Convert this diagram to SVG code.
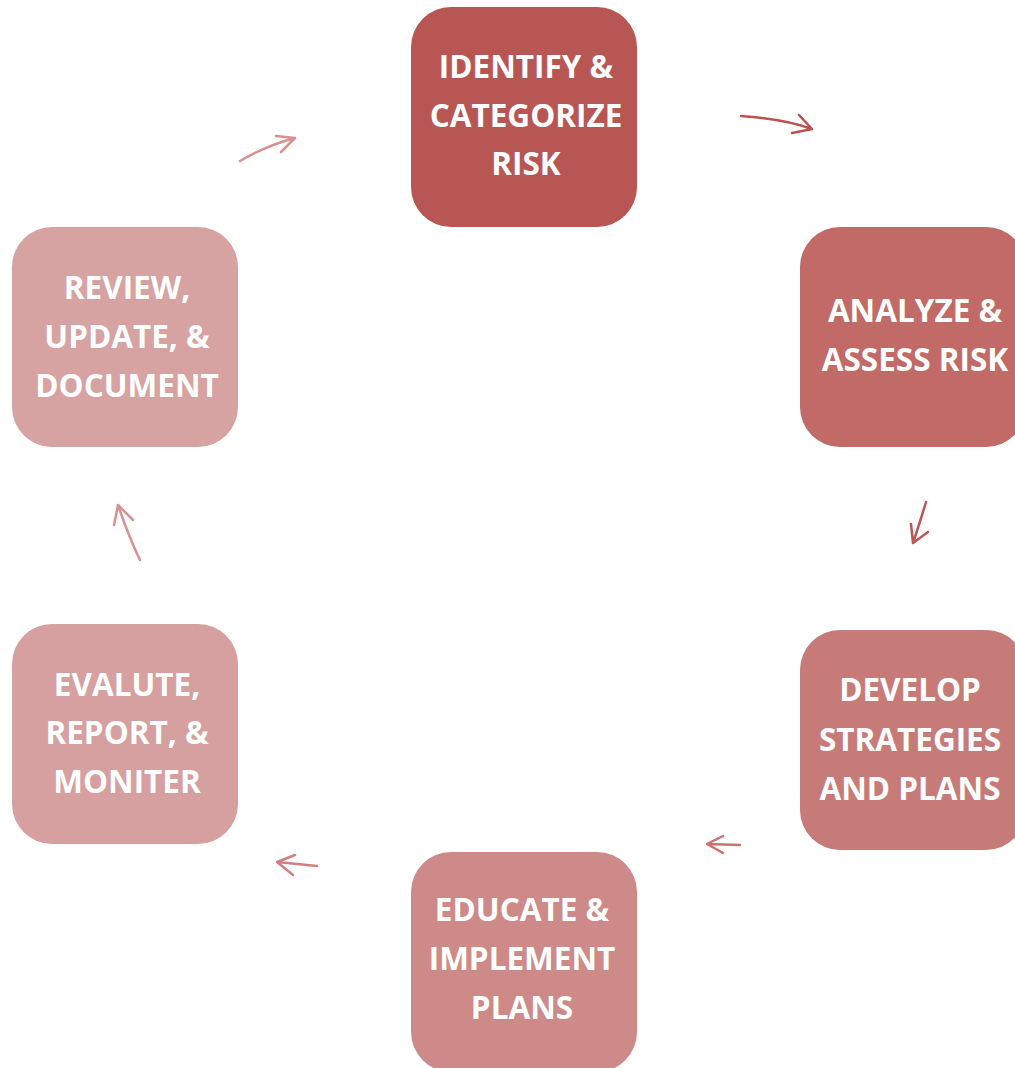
<svg xmlns="http://www.w3.org/2000/svg" width="1015" height="1068" viewBox="0 0 1015 1068">
  <style>
    .box { stroke: none; }
    .lbl { font-family: "Open Sans", "Liberation Sans", sans-serif; font-weight: 700; font-size: 31.5px; fill: #ffffff; text-anchor: middle; }
    .arr { fill: none; stroke-width: 2.5; stroke-linecap: round; stroke-linejoin: round; }
  </style>
  <rect width="1015" height="1068" fill="#ffffff"/>

  <g id="node-identify">
    <rect class="box" x="411" y="7" width="226" height="220" rx="40" fill="#B85654"/>
    <text class="lbl" x="526" y="78">IDENTIFY &amp;</text>
    <text class="lbl" x="526" y="127">CATEGORIZE</text>
    <text class="lbl" x="526" y="175">RISK</text>
  </g>

  <g id="node-analyze">
    <rect class="box" x="800" y="227" width="226" height="220" rx="40" fill="#C26A67"/>
    <text class="lbl" x="915" y="322">ANALYZE &amp;</text>
    <text class="lbl" x="915" y="371">ASSESS RISK</text>
  </g>

  <g id="node-develop">
    <rect class="box" x="800" y="630" width="226" height="220" rx="40" fill="#C77B78"/>
    <text class="lbl" x="910" y="701">DEVELOP</text>
    <text class="lbl" x="910" y="751">STRATEGIES</text>
    <text class="lbl" x="910" y="800">AND PLANS</text>
  </g>

  <g id="node-educate">
    <rect class="box" x="411" y="852" width="226" height="220" rx="40" fill="#CD8A88"/>
    <text class="lbl" x="522" y="921">EDUCATE &amp;</text>
    <text class="lbl" x="522" y="970">IMPLEMENT</text>
    <text class="lbl" x="522" y="1019">PLANS</text>
  </g>

  <g id="node-evaluate">
    <rect class="box" x="12" y="624" width="226" height="220" rx="40" fill="#D5A09F"/>
    <text class="lbl" x="127" y="696">EVALUTE,</text>
    <text class="lbl" x="127" y="744">REPORT, &amp;</text>
    <text class="lbl" x="127" y="793">MONITER</text>
  </g>

  <g id="node-review">
    <rect class="box" x="12" y="227" width="226" height="220" rx="40" fill="#D6A3A2"/>
    <text class="lbl" x="127" y="299">REVIEW,</text>
    <text class="lbl" x="127" y="348">UPDATE, &amp;</text>
    <text class="lbl" x="127" y="397">DOCUMENT</text>
  </g>

  <g id="connectors">
    <!-- identify -> analyze -->
    <path class="arr" stroke="#BF5050" d="M741,116 Q785,119 812,129 M799,115 L812,129 L792,133"/>
    <!-- analyze -> develop -->
    <path class="arr" stroke="#C05555" d="M926,502 Q920,522 913,543 M911,524 L913,543 L928,532"/>
    <!-- develop -> educate -->
    <path class="arr" stroke="#CC7070" d="M740,845 L707,844 M723,836 L707,844 L723,853"/>
    <!-- educate -> evaluate -->
    <path class="arr" stroke="#D08080" d="M317,866 Q298,864 277,862 M295,855 L277,862 L293,875"/>
    <!-- evaluate -> review -->
    <path class="arr" stroke="#D89090" d="M140,560 Q128,535 118,505 M114,525 L118,505 L133,520"/>
    <!-- review -> identify -->
    <path class="arr" stroke="#D89090" d="M240,161 Q265,146 295,138 M276,136 L295,138 L281,152"/>
  </g>
</svg>
